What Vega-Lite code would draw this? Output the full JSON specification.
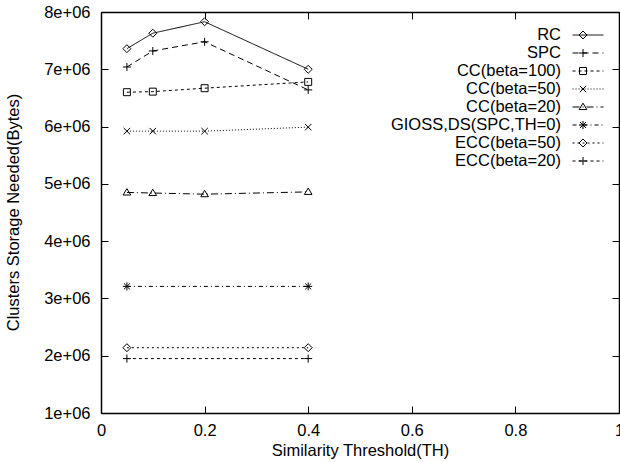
{
  "$schema": "https://vega.github.io/schema/vega-lite/v6.json",
  "autosize": "none",
  "padding": {"left": 101, "top": 12, "right": 1, "bottom": 48},
  "width": 518,
  "height": 401,
  "background": "white",
  "config": {
    "view": {"stroke": null},
    "font": "Liberation Sans",
    "axis": {
      "grid": false,
      "labelFlush": false,
      "domainColor": "black",
      "domainWidth": 1.5,
      "tickColor": "black",
      "tickWidth": 1,
      "labelColor": "black",
      "titleColor": "black",
      "labelFont": "Liberation Sans",
      "titleFont": "Liberation Sans",
      "labelFontSize": 16.5,
      "titleFontSize": 16.5,
      "titleFontWeight": "normal"
    },
    "legend": {
      "labelFont": "Liberation Sans",
      "labelFontSize": 16.5,
      "labelColor": "black"
    }
  },
  "data": {
    "values": [
      {"series": "RC", "th": 0.05, "bytes": 7360000},
      {"series": "RC", "th": 0.1, "bytes": 7630000},
      {"series": "RC", "th": 0.2, "bytes": 7830000},
      {"series": "RC", "th": 0.4, "bytes": 7000000},
      {"series": "SPC", "th": 0.05, "bytes": 7040000},
      {"series": "SPC", "th": 0.1, "bytes": 7320000},
      {"series": "SPC", "th": 0.2, "bytes": 7480000},
      {"series": "SPC", "th": 0.4, "bytes": 6640000},
      {"series": "CC(beta=100)", "th": 0.05, "bytes": 6600000},
      {"series": "CC(beta=100)", "th": 0.1, "bytes": 6610000},
      {"series": "CC(beta=100)", "th": 0.2, "bytes": 6670000},
      {"series": "CC(beta=100)", "th": 0.4, "bytes": 6780000},
      {"series": "CC(beta=50)", "th": 0.05, "bytes": 5920000},
      {"series": "CC(beta=50)", "th": 0.1, "bytes": 5920000},
      {"series": "CC(beta=50)", "th": 0.2, "bytes": 5920000},
      {"series": "CC(beta=50)", "th": 0.4, "bytes": 5990000},
      {"series": "CC(beta=20)", "th": 0.05, "bytes": 4850000},
      {"series": "CC(beta=20)", "th": 0.1, "bytes": 4840000},
      {"series": "CC(beta=20)", "th": 0.2, "bytes": 4820000},
      {"series": "CC(beta=20)", "th": 0.4, "bytes": 4860000},
      {"series": "GIOSS,DS(SPC,TH=0)", "th": 0.05, "bytes": 3210000},
      {"series": "GIOSS,DS(SPC,TH=0)", "th": 0.4, "bytes": 3210000},
      {"series": "ECC(beta=50)", "th": 0.05, "bytes": 2140000},
      {"series": "ECC(beta=50)", "th": 0.4, "bytes": 2140000},
      {"series": "ECC(beta=20)", "th": 0.05, "bytes": 1950000},
      {"series": "ECC(beta=20)", "th": 0.4, "bytes": 1950000}
    ]
  },
  "layer": [
    {
      "mark": {"type": "line", "color": "black", "strokeWidth": 1},
      "encoding": {
        "x": {
          "field": "th", "type": "quantitative",
          "scale": {"domain": [0, 1]},
          "axis": {
            "orient": "bottom",
            "values": [0, 0.2, 0.4, 0.6, 0.8, 1],
            "format": "~g",
            "tickSize": -7,
            "labelPadding": 16,
            "title": "Similarity Threshold(TH)",
            "titleY": 29
          }
        },
        "y": {
          "field": "bytes", "type": "quantitative",
          "scale": {"domain": [1000000, 8000000]},
          "axis": {
            "orient": "left",
            "values": [1000000, 2000000, 3000000, 4000000, 5000000, 6000000, 7000000, 8000000],
            "labelExpr": "replace(format(datum.value, '.0e'), '+', '+0')",
            "tickSize": -7,
            "labelPadding": 18,
            "title": "Clusters Storage Needed(Bytes)",
            "titleX": -80,
            "titleY": 200
          }
        },
        "strokeDash": {
          "field": "series", "type": "nominal",
          "scale": {
            "domain": ["RC", "SPC", "CC(beta=100)", "CC(beta=50)", "CC(beta=20)", "GIOSS,DS(SPC,TH=0)", "ECC(beta=50)", "ECC(beta=20)"],
            "range": [[1, 0], [6, 4], [3, 3], [1, 2], [7, 3, 1, 3], [4, 3, 1, 3], [2, 3], [3, 3]]
          },
          "legend": {
            "orient": "none",
            "legendX": 478,
            "legendY": 14,
            "title": null,
            "padding": 0,
            "rowPadding": 0,
            "symbolType": "M-1.82,0H1.82",
            "symbolSize": 289,
            "symbolStrokeColor": "black",
            "symbolStrokeWidth": 1,
            "labelAlign": "right",
            "labelOffset": -36,
            "labelLimit": 400
          }
        }
      }
    },
    {
      "mark": {"type": "point", "filled": false, "size": 289, "stroke": "black", "strokeWidth": 1, "opacity": 1},
      "encoding": {
        "x": {
          "field": "th", "type": "quantitative",
          "axis": {
            "orient": "top",
            "values": [0, 0.2, 0.4, 0.6, 0.8, 1],
            "labels": false,
            "tickSize": -7,
            "title": null
          }
        },
        "y": {
          "field": "bytes", "type": "quantitative",
          "axis": {
            "orient": "right",
            "values": [1000000, 2000000, 3000000, 4000000, 5000000, 6000000, 7000000, 8000000],
            "labels": false,
            "tickSize": -7,
            "title": null
          }
        },
        "shape": {
          "field": "series", "type": "nominal", "sort": null,
          "scale": {
            "range": [
              "M-0.47,0L0,-0.47L0.47,0L0,0.47Z",
              "M-0.47,0H0.47M0,-0.47V0.47",
              "M-0.41,-0.41H0.41V0.41H-0.41Z",
              "M-0.38,-0.38L0.38,0.38M-0.38,0.38L0.38,-0.38",
              "M0,-0.45L0.45,0.3H-0.45Z",
              "M-0.47,0H0.47M0,-0.47V0.47M-0.35,-0.35L0.35,0.35M-0.35,0.35L0.35,-0.35",
              "M-0.47,0L0,-0.47L0.47,0L0,0.47Z",
              "M-0.47,0H0.47M0,-0.47V0.47"
            ]
          },
          "legend": {
            "orient": "none",
            "legendX": 473,
            "legendY": 14,
            "title": null,
            "padding": 0,
            "rowPadding": 0,
            "symbolSize": 289,
            "symbolFillColor": "white",
            "symbolStrokeColor": "black",
            "symbolStrokeWidth": 1,
            "labelExpr": "''",
            "labelFontSize": 16.5
          }
        }
      }
    }
  ]
}
